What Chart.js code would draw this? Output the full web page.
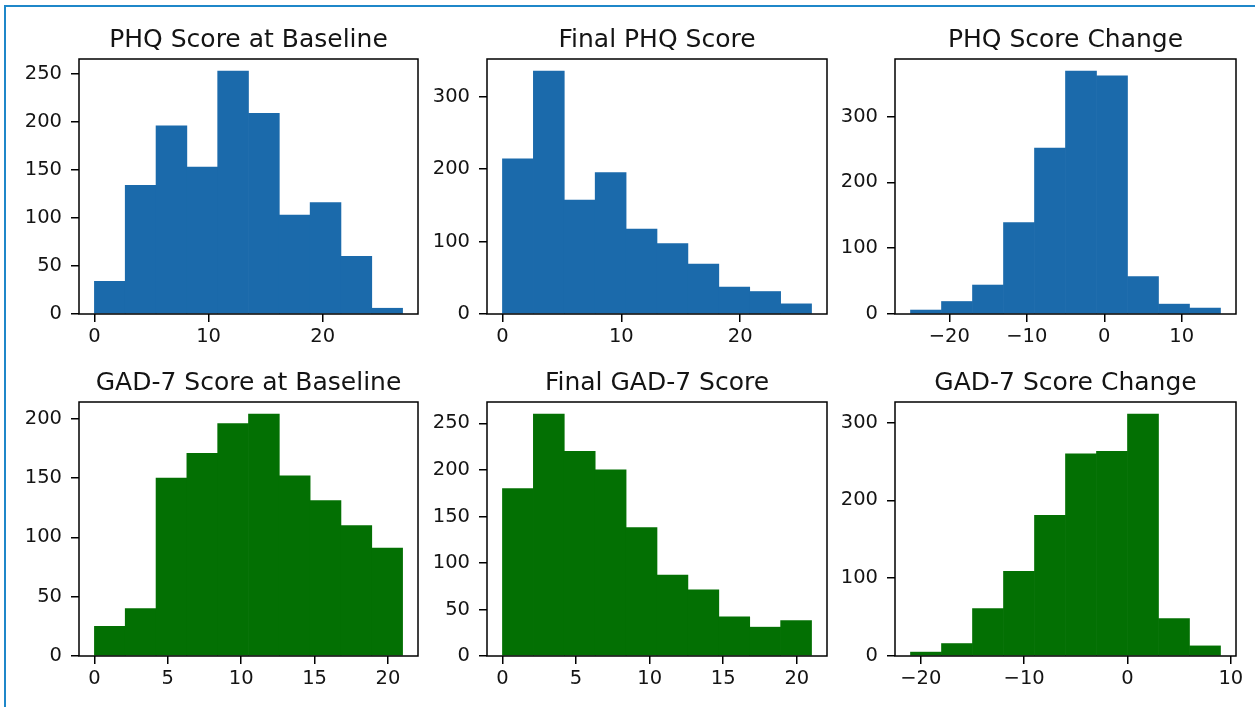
<!DOCTYPE html>
<html>
<head>
<meta charset="utf-8">
<script src="https://cdn.jsdelivr.net/npm/chart.js@4.4.1/dist/chart.umd.min.js"></script>
<style>
  html, body { margin:0; padding:0; background:#fff; width:1255px; height:707px; overflow:hidden; }
  #frame { position:absolute; left:4px; top:5px; right:0; bottom:0; border-top:2px solid #1f87c9; border-left:2px solid #1f87c9; }
  canvas { position:absolute; }
</style>
</head>
<body>
<div id="frame"></div>
<script>
// ---------- DATA ----------
const titles = ["PHQ Score at Baseline", "Final PHQ Score", "PHQ Score Change",
                "GAD-7 Score at Baseline", "Final GAD-7 Score", "GAD-7 Score Change"];

const phqBaseEdges   = [0, 2.7, 5.4, 8.1, 10.8, 13.5, 16.2, 18.9, 21.6, 24.3, 27];
const phqBaseCounts  = [34, 134, 196, 153, 253, 209, 103, 116, 60, 6];

const phqFinalEdges  = [0, 2.6, 5.2, 7.8, 10.4, 13, 15.6, 18.2, 20.8, 23.4, 26];
const phqFinalCounts = [214, 335, 157, 195, 117, 97, 69, 37, 31, 14];

const phqChangeEdges  = [-25, -21, -17, -13, -9, -5, -1, 3, 7, 11, 15];
const phqChangeCounts = [6, 19, 44, 139, 252, 369, 362, 57, 15, 9];

const gadBaseEdges   = [0, 2.1, 4.2, 6.3, 8.4, 10.5, 12.6, 14.7, 16.8, 18.9, 21];
const gadBaseCounts  = [25, 40, 150, 171, 196, 204, 152, 131, 110, 91];

const gadFinalEdges  = [0, 2.1, 4.2, 6.3, 8.4, 10.5, 12.6, 14.7, 16.8, 18.9, 21];
const gadFinalCounts = [180, 260, 220, 200, 138, 87, 71, 42, 31, 38];

const gadChangeEdges  = [-21, -18, -15, -12, -9, -6, -3, 0, 3, 6, 9];
const gadChangeCounts = [5, 16, 61, 109, 181, 260, 263, 311, 48, 13];

const xTicksTens      = [0, 10, 20];
const xTicksTensLbl   = ["0", "10", "20"];
const xTicksFives     = [0, 5, 10, 15, 20];
const xTicksFivesLbl  = ["0", "5", "10", "15", "20"];
const xTicksChange    = [-20, -10, 0, 10];
const xTicksChangeLbl = ["\u221220", "\u221210", "0", "10"];
const yTicks50_250    = [0, 50, 100, 150, 200, 250];
const yTicks100_300   = [0, 100, 200, 300];
const yTicks50_200    = [0, 50, 100, 150, 200];

const blue  = "#1b6aab";
const green = "#037003";

// ---------- LAYOUT ----------
const panels = [
  { title: titles[0], edges: phqBaseEdges,   counts: phqBaseCounts,   color: blue,  xt: xTicksTens,   xl: xTicksTensLbl,   yt: yTicks50_250,  L: 79,  T: 59,  R: 418,  B: 314 },
  { title: titles[1], edges: phqFinalEdges,  counts: phqFinalCounts,  color: blue,  xt: xTicksTens,   xl: xTicksTensLbl,   yt: yTicks100_300, L: 487, T: 59,  R: 827,  B: 314 },
  { title: titles[2], edges: phqChangeEdges, counts: phqChangeCounts, color: blue,  xt: xTicksChange, xl: xTicksChangeLbl, yt: yTicks100_300, L: 895, T: 59,  R: 1236, B: 314 },
  { title: titles[3], edges: gadBaseEdges,   counts: gadBaseCounts,   color: green, xt: xTicksFives,  xl: xTicksFivesLbl,  yt: yTicks50_200,  L: 79,  T: 402, R: 418,  B: 656 },
  { title: titles[4], edges: gadFinalEdges,  counts: gadFinalCounts,  color: green, xt: xTicksFives,  xl: xTicksFivesLbl,  yt: yTicks50_250,  L: 487, T: 402, R: 827,  B: 656 },
  { title: titles[5], edges: gadChangeEdges, counts: gadChangeCounts, color: green, xt: xTicksChange, xl: xTicksChangeLbl, yt: yTicks100_300, L: 895, T: 402, R: 1236, B: 656 }
];

const FONT = "'DejaVu Sans', 'Liberation Sans', sans-serif";
const TXT = "#141414";
const YW = 70, TH = 40, XH = 45, RP = 12;

const spinePlugin = {
  id: 'spines',
  afterDatasetsDraw(chart) {
    const a = chart.chartArea, ctx = chart.ctx;
    ctx.save();
    ctx.strokeStyle = "#000";
    ctx.lineWidth = 1.5;
    ctx.strokeRect(a.left, a.top, a.right - a.left, a.bottom - a.top);
    ctx.restore();
  }
};

panels.forEach(p => {
  const c = document.createElement('canvas');
  const w = YW + (p.R - p.L) + RP;
  const h = TH + (p.B - p.T) + XH;
  c.width = w; c.height = h;
  c.style.left = (p.L - YW) + "px";
  c.style.top = (p.T - TH) + "px";
  c.style.width = w + "px"; c.style.height = h + "px";
  document.body.appendChild(c);

  const e = p.edges;
  const lo = e[0], hi = e[e.length - 1], span = hi - lo;
  const pts = p.counts.map((v, i) => ({ x: (e[i] + e[i + 1]) / 2, y: v }));
  const yMax = Math.max(...p.counts) * 1.05;

  new Chart(c, {
    type: 'bar',
    data: { datasets: [{ data: pts, backgroundColor: p.color, borderWidth: 0,
                         barPercentage: 1, categoryPercentage: 1 }] },
    plugins: [spinePlugin],
    options: {
      responsive: false, animation: false, devicePixelRatio: 1,
      layout: { padding: { left: 0, top: 0, right: RP, bottom: 0 } },
      plugins: {
        legend: { display: false }, tooltip: { enabled: false },
        title: { display: true, text: p.title, color: TXT, fullSize: false, align: 'center',
                 font: { family: FONT, size: 25, weight: 'normal', lineHeight: 1.2 },
                 padding: { top: 6, bottom: 4 } }
      },
      scales: {
        x: {
          type: 'linear', offset: false, min: lo - 0.05 * span, max: hi + 0.05 * span,
          afterBuildTicks: s => { s.ticks = p.xt.map(v => ({ value: v })); },
          afterFit: s => { s.height = XH; s.paddingLeft = 0; s.paddingRight = 0; },
          ticks: { font: { family: FONT, size: 19.5 }, color: TXT, padding: 3, maxRotation: 0, autoSkip: false,
                   callback: v => p.xl[p.xt.indexOf(v)] },
          grid: { offset: false, drawOnChartArea: false, drawTicks: true, tickLength: 8, color: "#000", lineWidth: 1.5 },
          border: { display: false }
        },
        y: {
          type: 'linear', min: 0, max: yMax,
          afterBuildTicks: s => { s.ticks = p.yt.map(v => ({ value: v })); },
          afterFit: s => { s.width = YW; s.paddingTop = 0; s.paddingBottom = 0; },
          ticks: { font: { family: FONT, size: 19.5 }, color: TXT, padding: 9, autoSkip: false,
                   callback: v => String(v) },
          grid: { drawOnChartArea: false, drawTicks: true, tickLength: 8, color: "#000", lineWidth: 1.5 },
          border: { display: false }
        }
      }
    }
  });
});
</script>
</body>
</html>
